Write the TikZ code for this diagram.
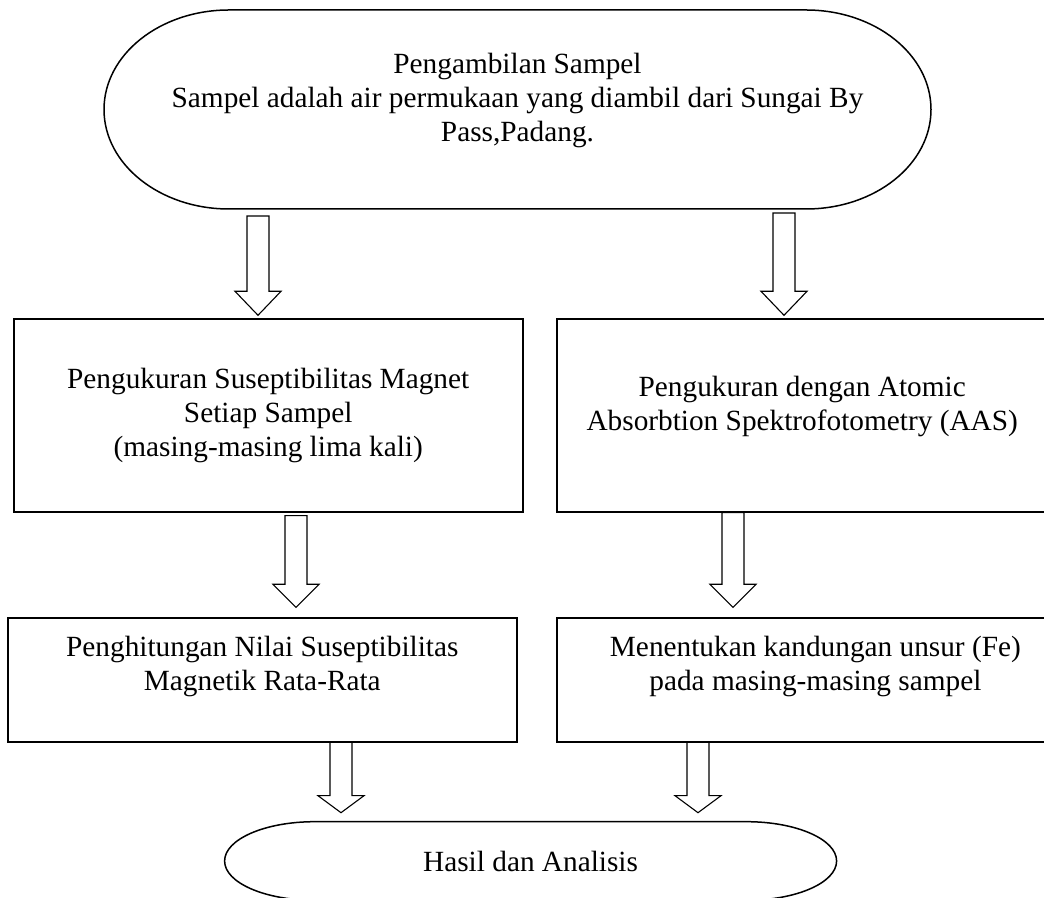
\documentclass[tikz,border=0pt]{standalone}
\usepackage{fontspec}
\setmainfont{Liberation Serif}
\usetikzlibrary{calc}

\tikzset{
    txt/.style={font=\fontsize{29.3}{34}\selectfont, align=center, outer sep=0pt, inner sep=0pt},
    stepbox/.style={txt, draw, line width=1.8pt},
    terminal/.style={txt},
    outline/.style={line width=1.5pt},
    blockarrow/.style={line width=1.1pt, to path={let \p1=(\tikztostart), \p2=(\tikztotarget) in
        (\x1-11pt,\y1) -- (\x1-11pt,\y2+#1) -- (\x1-23pt,\y2+#1) -- (\x2,\y2)
        -- (\x1+23pt,\y2+#1) -- (\x1+11pt,\y2+#1) -- (\x1+11pt,\y1) -- cycle}},
    blockarrow/.default=24pt
}

\begin{document}
\begin{tikzpicture}[x=1pt, y=1pt]
    \useasboundingbox (0,0) rectangle (1044,897);

    % Draw the start and end terminals
    \node[terminal, minimum width=827pt, minimum height=199pt] (top) at (517.5,787.5)
        {Pengambilan Sampel\\Sampel adalah air permukaan yang diambil dari Sungai By\\Pass,Padang.\\[-10pt]\mbox{}};
    \node[terminal, minimum width=612pt, minimum height=78.6pt] (hasil) at (530.6,36) {Hasil dan Analisis};
    \foreach \nd/\rx/\ry in {top/125/99.5, hasil/90/39.3}
        \draw[outline] ([xshift=\rx pt]\nd.north west) -- ([xshift=-\rx pt]\nd.north east)
            arc[start angle=90, end angle=-90, x radius=\rx pt, y radius=\ry pt]
            -- ([xshift=\rx pt]\nd.south west)
            arc[start angle=270, end angle=90, x radius=\rx pt, y radius=\ry pt] -- cycle;

    % Draw the process boxes
    \node[stepbox, minimum width=509pt, minimum height=192.4pt] (ukur) at (268.2,481.5)
        {Pengukuran Suseptibilitas Magnet\\Setiap Sampel\\(masing-masing lima kali)};
    \node[stepbox, minimum width=491pt, minimum height=192.4pt] (aas) at (802.2,481.5)
        {Pengukuran dengan Atomic\\Absorbtion Spektrofotometry (AAS)\\[-10pt]\mbox{}};
    \node[stepbox, minimum width=508.8pt, minimum height=123.4pt] (hitung) at (262.3,217)
        {Penghitungan Nilai Suseptibilitas\\Magnetik Rata-Rata\\\mbox{}};
    \node[stepbox, minimum width=517.3pt, minimum height=123.4pt] (fe) at (815.4,217)
        {Menentukan kandungan unsur (Fe)\\pada masing-masing sampel\\\mbox{}};

    % Draw the hollow arrows between the steps
    \foreach \src/\dst/\ax/\ga/\gb/\hd in {top/ukur/258/7/4/24, top/aas/784/4/4/24,
            ukur/hitung/296/4/11/23, aas/fe/733/1/11/23,
            hitung/hasil/341/0/9/17, fe/hasil/698/0/9/17} {
        \coordinate (ax) at (\ax,0);
        \coordinate (tail) at ($(\src.south -| ax)+(0,-\ga)$);
        \coordinate (tip) at ($(\dst.north -| ax)+(0,\gb)$);
        \draw[blockarrow=\hd pt] (tail) to (tip);
    }
\end{tikzpicture}
\end{document}
